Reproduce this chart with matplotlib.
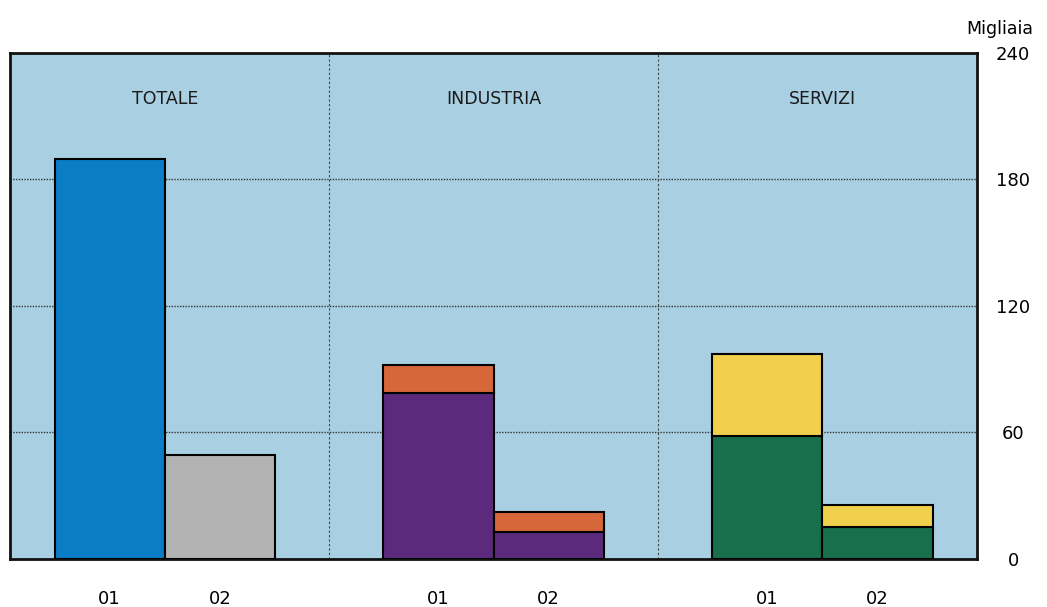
import matplotlib
matplotlib.use("Agg")
import matplotlib.pyplot as plt
import numpy as np

groups = ["TOTALE", "INDUSTRIA", "SERVIZI"]
periods = ["01", "02"]
# lower segment and upper segment values (migliaia)
lower_vals = {
    "TOTALE": [189.5, 49.2],
    "INDUSTRIA": [78.8, 12.6],
    "SERVIZI": [58.4, 15.1],
}
upper_vals = {
    "TOTALE": [0.0, 0.0],
    "INDUSTRIA": [13.0, 9.7],
    "SERVIZI": [38.6, 10.7],
}
lower_colors = {
    "TOTALE": ["#0b7cc6", "#b3b3b3"],
    "INDUSTRIA": ["#5b2a7c", "#5b2a7c"],
    "SERVIZI": ["#17704b", "#17704b"],
}
upper_colors = {
    "TOTALE": ["#0b7cc6", "#b3b3b3"],
    "INDUSTRIA": ["#d6673a", "#d6673a"],
    "SERVIZI": ["#f1d04e", "#f1d04e"],
}
yticks = [0, 60, 120, 180, 240]

fig = plt.figure(figsize=(10.47, 6.07), dpi=100)
ax = fig.add_axes([0.0096, 0.079, 0.9236, 0.834])
ax.set_facecolor("#a9cfe2")
fig.patch.set_facecolor("white")

w = 0.342
centers = [0.48 + 1.02 * i for i in range(len(groups))]
for gi, g in enumerate(groups):
    c = centers[gi]
    for pi in range(len(periods)):
        x = c - w if pi == 0 else c
        lo = lower_vals[g][pi]
        up = upper_vals[g][pi]
        ax.bar(x, lo, width=w, align="edge", color=lower_colors[g][pi],
               edgecolor="black", linewidth=1.5, zorder=3)
        if up > 0:
            ax.bar(x, up, bottom=lo, width=w, align="edge", color=upper_colors[g][pi],
                   edgecolor="black", linewidth=1.5, zorder=3)
    ax.text(c, 218, g, ha="center", va="center", fontsize=12.5, color="#1a1a1a")

ax.set_xlim(0, 3.0)
ax.set_ylim(0, 240)

for y in yticks[1:-1]:
    ax.axhline(y, color="#333333", linestyle=(0, (1, 1)), linewidth=1.0, zorder=1)
for sx in [(centers[0] + centers[1]) / 2, (centers[1] + centers[2]) / 2]:
    ax.axvline(sx, color="#444444", linestyle=(0, (2, 2)), linewidth=0.8, zorder=1)

ax.yaxis.tick_right()
ax.set_yticks(yticks)
ax.set_yticklabels([str(v) for v in yticks], fontsize=13, ha="center")
ax.tick_params(axis="y", length=0, pad=26)
ax.set_xticks([c - w / 2 for c in centers] + [c + w / 2 for c in centers])
ax.set_xticklabels([periods[0]] * 3 + [periods[1]] * 3, fontsize=13)
ax.tick_params(axis="x", length=0, pad=22)

for s in ax.spines.values():
    s.set_linewidth(2)
    s.set_color("#111111")

fig.text(0.955, 0.952, "Migliaia", ha="center", va="center", fontsize=12.5)

fig.savefig("out.png", dpi=100)
